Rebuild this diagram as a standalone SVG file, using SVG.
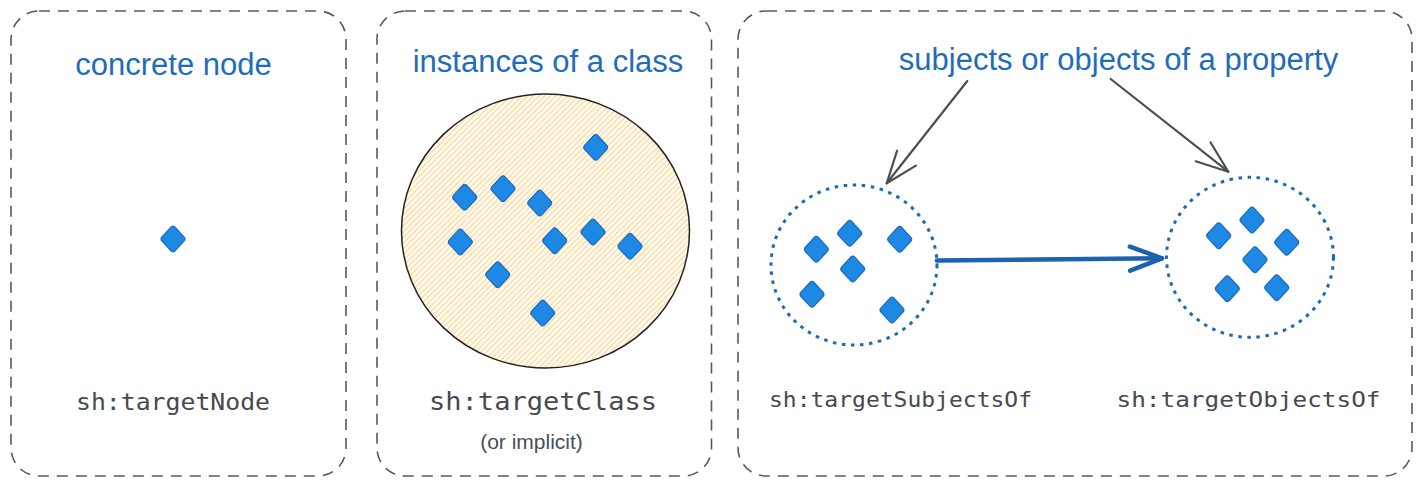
<svg xmlns="http://www.w3.org/2000/svg" xmlns:xlink="http://www.w3.org/1999/xlink" width="1422" height="489" viewBox="0 0 1422 489">
<style>
.panel{fill:none;stroke:#55595f;stroke-width:1.6;stroke-dasharray:11 8}
.title{font-family:"Liberation Sans",Arial,sans-serif;font-size:31px;fill:#1f6cba;text-anchor:middle}
.code{font-family:"DejaVu Sans Mono","Liberation Mono",monospace;fill:#454a51}
.note{font-family:"Liberation Sans",Arial,sans-serif;font-size:21px;fill:#4a4f57;text-anchor:middle}
.dot{fill:none;stroke:#1d69b6;stroke-width:3;stroke-dasharray:3.5 5.6}
.gray{fill:none;stroke:#4a4f55;stroke-width:2.2;stroke-linecap:round}
.blue{fill:none;stroke:#1b63ad;stroke-width:4.5;stroke-linecap:round}
</style>
<defs>
<path id="d" d="M-2.04,-11.8 Q0,-14 2.04,-11.8 L10.96,-2.2 Q13,0 10.96,2.2 L2.04,11.8 Q0,14 -2.04,11.8 L-10.96,2.2 Q-13,0 -10.96,-2.2 Z" fill="#1e88e5" stroke="#1a6cc0" stroke-width="1.2"/>
<pattern id="hatch" patternUnits="userSpaceOnUse" width="4" height="4" patternTransform="rotate(45)">
<rect width="4" height="4" fill="#ffffff"/>
<line x1="1" y1="0" x2="1" y2="4" stroke="#f8ca6e" stroke-width="1.1"/>
</pattern>
<marker id="ag" markerUnits="userSpaceOnUse" viewBox="-36 -16 40 32" refX="0" refY="0" markerWidth="40" markerHeight="32" orient="auto" overflow="visible">
<path d="M-32,-12 L0,0 L-32,12" fill="none" stroke="#4a4f55" stroke-width="2.2" stroke-linecap="round" stroke-linejoin="round"/>
</marker>
<marker id="ab" markerUnits="userSpaceOnUse" viewBox="-36 -16 40 32" refX="0" refY="0" markerWidth="40" markerHeight="32" orient="auto" overflow="visible">
<path d="M-32,-12 L0,0 L-32,12" fill="none" stroke="#1b63ad" stroke-width="4.5" stroke-linecap="round" stroke-linejoin="round"/>
</marker>
</defs>
<rect width="1422" height="489" fill="#ffffff"/>

<g id="panel-concrete">
<rect class="panel" x="11" y="11" width="335" height="465" rx="28"/>
<text class="title" x="173.5" y="75">concrete node</text>
<g id="node-concrete"><use xlink:href="#d" x="173" y="239"/></g>
<text class="code" x="76" y="410" font-size="23" textLength="194" lengthAdjust="spacingAndGlyphs">sh:targetNode</text>
</g>

<g id="panel-class">
<rect class="panel" x="377" y="11" width="334.5" height="465" rx="28"/>
<text class="title" x="548" y="72">instances of a class</text>
<g id="class-set">
<ellipse cx="545.5" cy="231" rx="144" ry="137" fill="url(#hatch)" stroke="#222222" stroke-width="1.5"/>
<use xlink:href="#d" x="595.7" y="147.3"/>
<use xlink:href="#d" x="464.7" y="197.3"/>
<use xlink:href="#d" x="503" y="188.7"/>
<use xlink:href="#d" x="539.7" y="203"/>
<use xlink:href="#d" x="460.3" y="242"/>
<use xlink:href="#d" x="554.7" y="240.7"/>
<use xlink:href="#d" x="593" y="232"/>
<use xlink:href="#d" x="630" y="246.3"/>
<use xlink:href="#d" x="497.7" y="274.7"/>
<use xlink:href="#d" x="542.7" y="313"/>
</g>
<text class="code" x="429" y="410" font-size="24" textLength="228" lengthAdjust="spacingAndGlyphs">sh:targetClass</text>
<text class="note" x="531.5" y="449">(or implicit)</text>
</g>

<g id="panel-property">
<rect class="panel" x="738" y="11" width="674" height="465" rx="28"/>
<text class="title" x="1118.5" y="70">subjects or objects of a property</text>
<g id="subjects-set">
<ellipse class="dot" cx="854" cy="265" rx="83" ry="80"/>
<use xlink:href="#d" x="816.3" y="249.3"/>
<use xlink:href="#d" x="849.7" y="233.3"/>
<use xlink:href="#d" x="899.7" y="239.3"/>
<use xlink:href="#d" x="852.7" y="269"/>
<use xlink:href="#d" x="812" y="294.3"/>
<use xlink:href="#d" x="892" y="310"/>
</g>
<g id="objects-set">
<ellipse class="dot" cx="1250" cy="257.3" rx="83.5" ry="80"/>
<use xlink:href="#d" x="1218.7" y="235.7"/>
<use xlink:href="#d" x="1252" y="220"/>
<use xlink:href="#d" x="1286.7" y="242.3"/>
<use xlink:href="#d" x="1255" y="259.7"/>
<use xlink:href="#d" x="1227.3" y="288.7"/>
<use xlink:href="#d" x="1276.7" y="287.7"/>
</g>
<text class="code" x="769" y="407" font-size="21" textLength="263" lengthAdjust="spacingAndGlyphs">sh:targetSubjectsOf</text>
<text class="code" x="1116.5" y="407" font-size="21" textLength="264" lengthAdjust="spacingAndGlyphs">sh:targetObjectsOf</text>
</g>

<g id="connectors">
<line class="gray" x1="967.3" y1="81" x2="886.7" y2="183.3" marker-end="url(#ag)"/>
<line class="gray" x1="1110.7" y1="79" x2="1228.3" y2="171.7" marker-end="url(#ag)"/>
<line class="blue" x1="937" y1="260.5" x2="1162" y2="258.3" marker-end="url(#ab)"/>
</g>
</svg>
